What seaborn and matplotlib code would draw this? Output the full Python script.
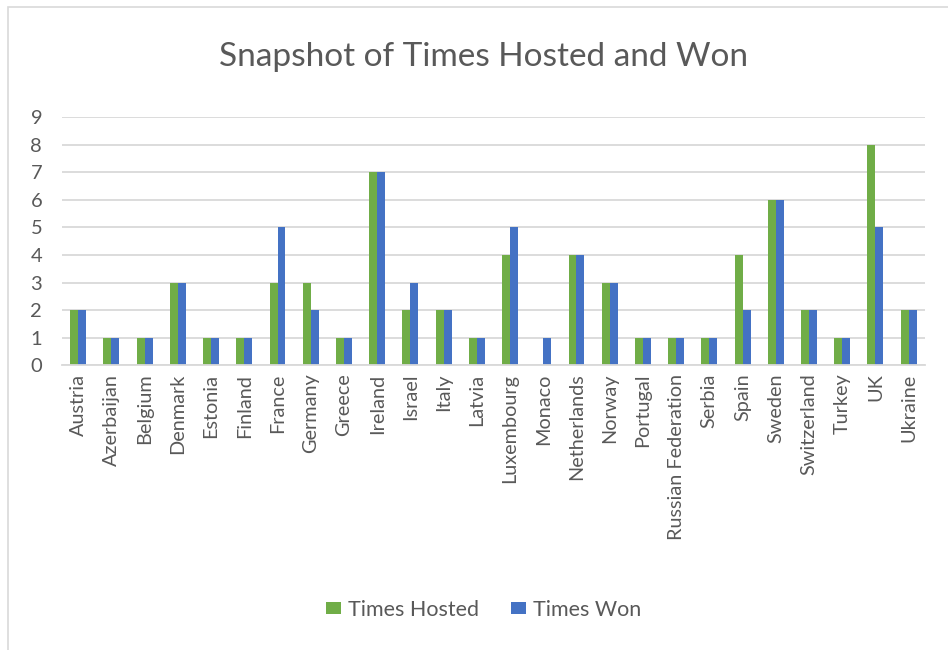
import matplotlib
matplotlib.use("Agg")
import matplotlib.pyplot as plt
import seaborn as sns
import pandas as pd
from matplotlib.patches import Rectangle

countries = ["Austria", "Azerbaijan", "Belgium", "Denmark", "Estonia", "Finland", "France",
             "Germany", "Greece", "Ireland", "Israel", "Italy", "Latvia", "Luxembourg",
             "Monaco", "Netherlands", "Norway", "Portugal", "Russian Federation", "Serbia",
             "Spain", "Sweden", "Switzerland", "Turkey", "UK", "Ukraine"]
times_hosted = [2, 1, 1, 3, 1, 1, 3, 3, 1, 7, 2, 2, 1, 4, 0, 4, 3, 1, 1, 1, 4, 6, 2, 1, 8, 2]
times_won = [2, 1, 1, 3, 1, 1, 5, 2, 1, 7, 3, 2, 1, 5, 1, 4, 3, 1, 1, 1, 2, 6, 2, 1, 5, 2]
series = ["Times Hosted", "Times Won"]
colors = ["#70AD47", "#4472C4"]
title = "Snapshot of Times Hosted and Won"

df = pd.DataFrame({
    "Country": countries * 2,
    "Series": [series[0]] * len(countries) + [series[1]] * len(countries),
    "Value": times_hosted + times_won,
})

sns.set_theme(style="white")
plt.rcParams["font.family"] = ["Lato", "DejaVu Sans"]
text_color = "#595959"

fig = plt.figure(figsize=(9.48, 6.5), dpi=100)
ax = fig.add_axes([0.065, 0.438, 0.911, 0.382])

sns.barplot(data=df, x="Country", y="Value", hue="Series", palette=colors,
            width=0.48, ax=ax, saturation=1, legend=True, linewidth=0)

ax.set_ylim(0, 9)
ax.set_yticks(range(0, 10))
ax.set_xlim(-0.5, len(countries) - 0.5)
ax.yaxis.grid(True, color="#D9D9D9", linewidth=1.3)
ax.set_axisbelow(True)
for s in ["top", "right", "left"]:
    ax.spines[s].set_visible(False)
ax.spines["bottom"].set_color("#D9D9D9")
ax.spines["bottom"].set_linewidth(1.3)
ax.set_xlabel("")
ax.set_ylabel("")
ax.tick_params(axis="x", rotation=90, labelsize=14.3, colors=text_color, length=0, pad=6)
ax.tick_params(axis="y", labelsize=14.5, colors=text_color, length=0, pad=14)
for lbl in ax.get_xticklabels():
    lbl.set_color(text_color)

fig.text(0.51, 0.912, title, ha="center", va="center", fontsize=24, color=text_color)

handles, labels = ax.get_legend_handles_labels()
ax.get_legend().remove()
fig.legend(handles, labels, loc="center", bbox_to_anchor=(0.51, 0.062), ncol=2,
           frameon=False, fontsize=15.5, labelcolor=text_color, handlelength=0.7,
           handleheight=0.45, handletextpad=0.3, columnspacing=1.5)

fig.patches.append(Rectangle((0.0085, -0.01), 1.2, 1.0, transform=fig.transFigure,
                             fill=False, edgecolor="#D9D9D9", linewidth=1.2))

fig.savefig("out.png", dpi=100)
